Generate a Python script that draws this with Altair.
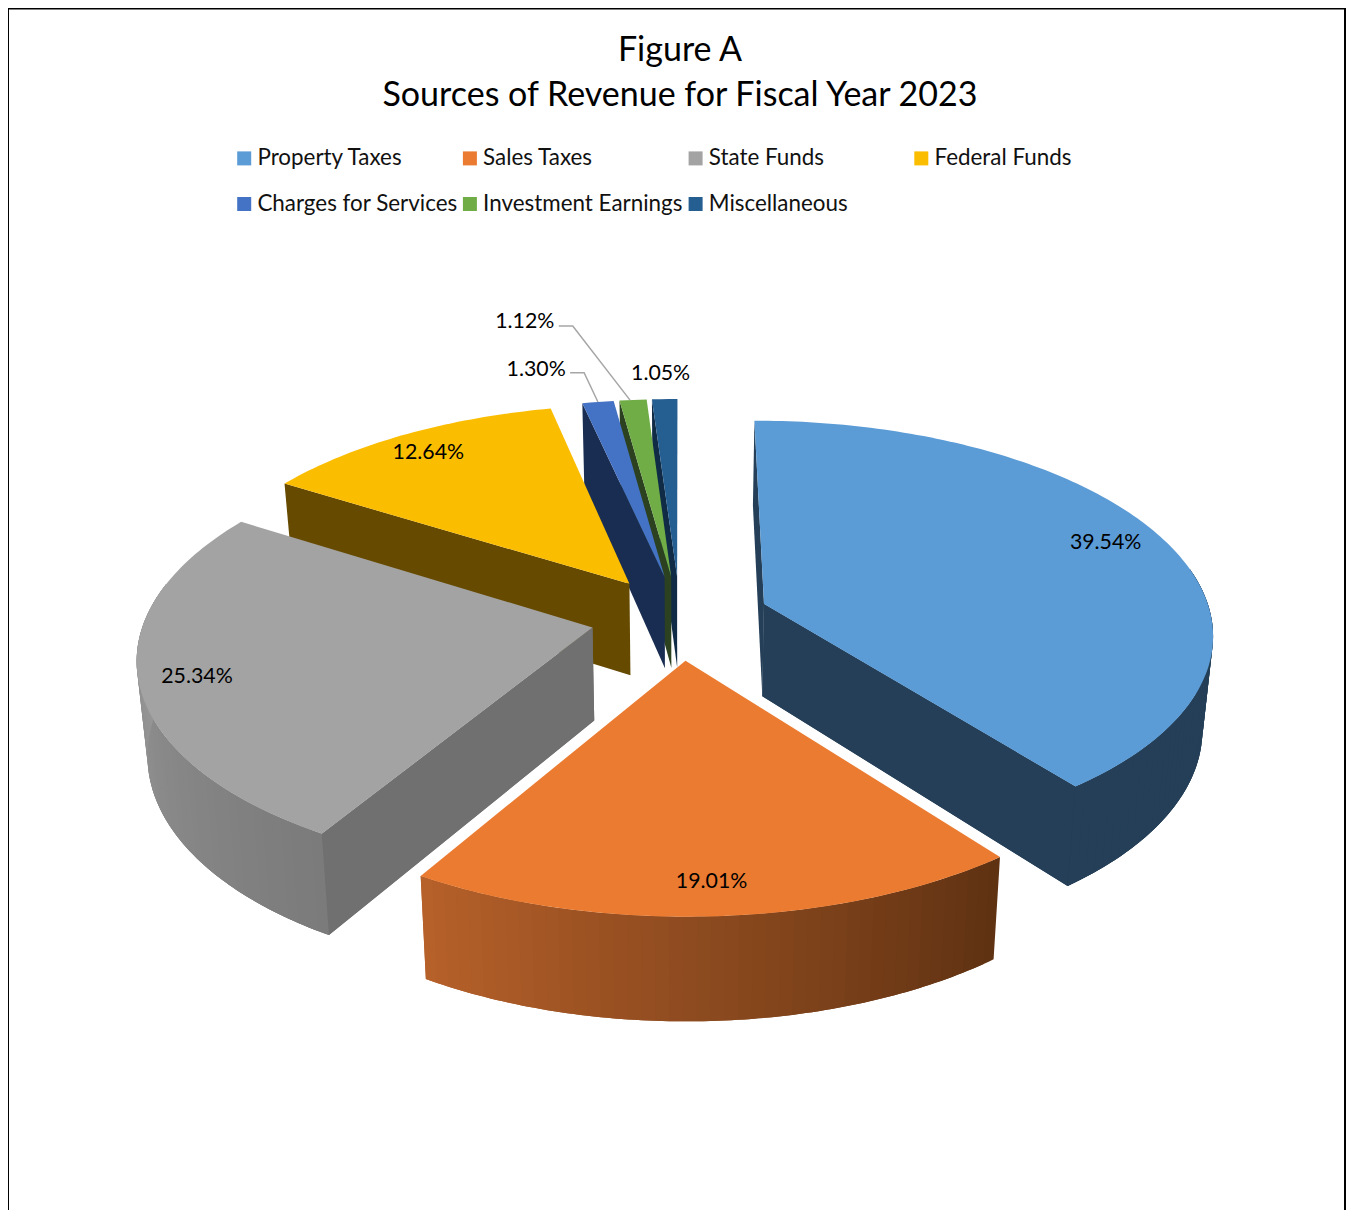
import math
import altair as alt
import pandas as pd

# ---- values
categories = ["Property Taxes", "Sales Taxes", "State Funds", "Federal Funds",
              "Charges for Services", "Investment Earnings", "Miscellaneous"]
shares = [39.54, 19.01, 25.34, 12.64, 1.30, 1.12, 1.05]
# the legend fills column by column, so this order reads row by row as in the reference
legend_order = ["Property Taxes", "Charges for Services", "Sales Taxes", "Investment Earnings",
                "State Funds", "Miscellaneous", "Federal Funds"]

# ---- styles
top_colors = ["#5B9BD6", "#EB7B30", "#A3A3A3", "#FBBD00", "#4472C4", "#70AD47", "#255E91"]
face_colors = ["#243F57", "#5F3212", "#707070", "#664A00", "#192D52", "#2C4120", "#0F2B46"]
wall_from = ["#243F57", "#5F3212", "#7B7B7B", "#664A00", "#192D52", "#2C4120", "#0F2B46"]
wall_to = ["#243F57", "#B6602A", "#9A9A9A", "#664A00", "#192D52", "#2C4120", "#0F2B46"]
FONT = "Lato"

# ---- 3D pie layout (perspective view of a circle, page pixels)
CX, CY, RX, RY, PERSP, EXPLODE = 680, 617.5, 447.5, 210.5, 0.13, 0.2
# label placement: offset from the slice's mid angle (deg), radius fraction
label_polar = [(-2.7, 0.87), (0.25, 0.875), (-0.6, 0.875), (-0.2, 0.882),
               (-5.8, 1.255), (-9.0, 1.585), (-0.28, 1.174)]
OX, OY = 8, 8

starts, a = [], 0.0
for s in shares:
    starts.append(a)
    a += s * 3.6


def project(i, theta, r):
    mid = math.radians(starts[i] + shares[i] * 1.8)
    t = math.radians(theta)
    X = EXPLODE * math.sin(mid) + r * math.sin(t)
    Y = -EXPLODE * math.cos(mid) - r * math.cos(t)
    w = 1 - PERSP * Y
    return CX + RX * X / w - OX, CY + RY * Y / w - OY


def lower(p):
    x, y = p
    x += OX
    y += OY
    return CX + 0.98 * (x - CX) - OX, 666 + 1.04 * (y - 575) - OY


def feature(points, color, name=None):
    ring = [list(p) for p in points] + [list(points[0])]
    return {"type": "Feature", "geometry": {"type": "Polygon", "coordinates": [ring]},
            "properties": {"color": color, "name": name}}


def mix(c1, c2, f):
    a_, b_ = [int(c1[k:k + 2], 16) for k in (1, 3, 5)], [int(c2[k:k + 2], 16) for k in (1, 3, 5)]
    return "#%02x%02x%02x" % tuple(round(u + (v - u) * f) for u, v in zip(a_, b_))


def cut_face(i, theta):
    apex, rim = project(i, theta, 0), project(i, theta, 1)
    return feature([apex, rim, lower(rim), lower(apex)], face_colors[i])


def backing(i, cut, far):
    """One piece under a cut face and the wall it meets, so no seam shows at the corner."""
    arc = [project(i, cut + (far - cut) * q / 60, 1) for q in range(61)]
    apex = project(i, cut, 0)
    return feature([apex] + arc + [lower(p) for p in reversed(arc)] + [lower(apex)], face_colors[i])


sides, tops = [], []
for i in [6, 5, 4, 3, 0, 2, 1]:
    t0, t1 = starts[i], starts[i] + shares[i] * 3.6
    if i == 0:
        sides.append(backing(i, t1, 80))
    if i == 2:
        sides.append(backing(i, t0, 282))
    if i != 1:
        sides.append(cut_face(i, t0))
    if i == 0:
        sides.append(cut_face(i, t1))
    lo, hi = max(t0, 80), min(t1, 282)
    if hi > lo:
        n = max(2, int((hi - lo) / 1.5))
        step = (hi - lo) / n
        # each strip overlaps the previous one: no seams
        for k in range(n):
            a0, a1 = lo + step * k, min(hi, lo + step * (k + 2))
            arc = [project(i, a0 + (a1 - a0) * q / 4, 1) for q in range(5)]
            sides.append(feature(arc + [lower(p) for p in reversed(arc)],
                                 mix(wall_from[i], wall_to[i], k / max(1, n - 1))))
for i in [6, 5, 4, 3, 0, 2, 1]:
    t0, t1 = starts[i], starts[i] + shares[i] * 3.6
    n = max(2, int((t1 - t0) / 1.0))
    pts = [project(i, 0, 0)] + [project(i, t0 + (t1 - t0) * k / n, 1) for k in range(n + 1)]
    tops.append(feature(pts, top_colors[i], categories[i]))

rows, lines = [], []
for i, (d, r) in enumerate(label_polar):
    x, y = project(i, starts[i] + shares[i] * 1.8 + d, r)
    rows.append({"x": x, "y": y, "label": f"{shares[i]:.2f}%"})
    if i in (4, 5):
        dy = 5 if i == 4 else 6
        rim = project(i, starts[i] + shares[i] * (1.8 if i == 4 else 1.4), 1)
        for n, (px, py) in enumerate([(x + 34, y + dy), (x + 48, y + dy), rim]):
            lines.append({"x": px, "y": py, "k": i, "n": n})

proj = dict(type="identity", scale=1, translate=[0, 0])
X_ = alt.X("x:Q", scale=None, axis=None)
Y_ = alt.Y("y:Q", scale=None, axis=None)

side_layer = alt.Chart(alt.Data(values=sides)).mark_geoshape(strokeWidth=0).encode(
    fill=alt.Fill("properties.color:N", scale=None, legend=None),
).project(**proj)

top_layer = alt.Chart(alt.Data(values=tops)).mark_geoshape(strokeWidth=0).encode(
    fill=alt.Fill(
        "properties.name:N",
        scale=alt.Scale(domain=legend_order,
                        range=[top_colors[categories.index(c)] for c in legend_order]),
        sort=legend_order,
        legend=alt.Legend(
            title=None, orient="none", legendX=225, legendY=139, columns=4, gridAlign="all",
            symbolType="square", symbolSize=196, symbolStrokeWidth=0, labelFont=FONT,
            labelFontSize=22.4, labelColor="#111111", labelOffset=2, rowPadding=22.8, columnPadding=0.7,
            labelLimit=400,
        ),
    ),
).project(**proj)

leader_layer = alt.Chart(pd.DataFrame(lines)).mark_line(color="#A6A6A6", strokeWidth=1.5).encode(
    x=X_, y=Y_, detail="k:N", order="n:Q")

label_layer = alt.Chart(pd.DataFrame(rows)).mark_text(
    font=FONT, fontSize=21.3, color="#000000", align="center", baseline="middle", dy=2
).encode(x=X_, y=Y_, text="label:N")

frame_src = pd.DataFrame({"a": [0]})
frame = [
    alt.Chart(frame_src).mark_rule(color="#000000", strokeWidth=2).encode(
        x=alt.value(0), y=alt.value(0), y2=alt.value(1202)),
    alt.Chart(frame_src).mark_rule(color="#000000", strokeWidth=2).encode(
        x=alt.value(1337), y=alt.value(0), y2=alt.value(1202)),
    alt.Chart(frame_src).mark_rule(color="#000000", strokeWidth=3).encode(
        x=alt.value(0), x2=alt.value(1337), y=alt.value(0)),
]

chart = alt.layer(side_layer, top_layer, leader_layer, label_layer, *frame).properties(
    width=1338, height=1202, padding=0,
    autosize=alt.AutoSizeParams(type="none"),
    title=alt.TitleParams(
        text=["Figure A", "Sources of Revenue for Fiscal Year 2023"],
        font=FONT, fontSize=34, fontWeight="normal", color="#000000", anchor="middle",
        baseline="top", offset=0, dx=3, dy=106, lineHeight=45,
    ),
).configure_view(stroke=None).resolve_scale(fill="independent", stroke="independent")

chart.save("out.html", embed_options={"renderer": "svg", "actions": False})
